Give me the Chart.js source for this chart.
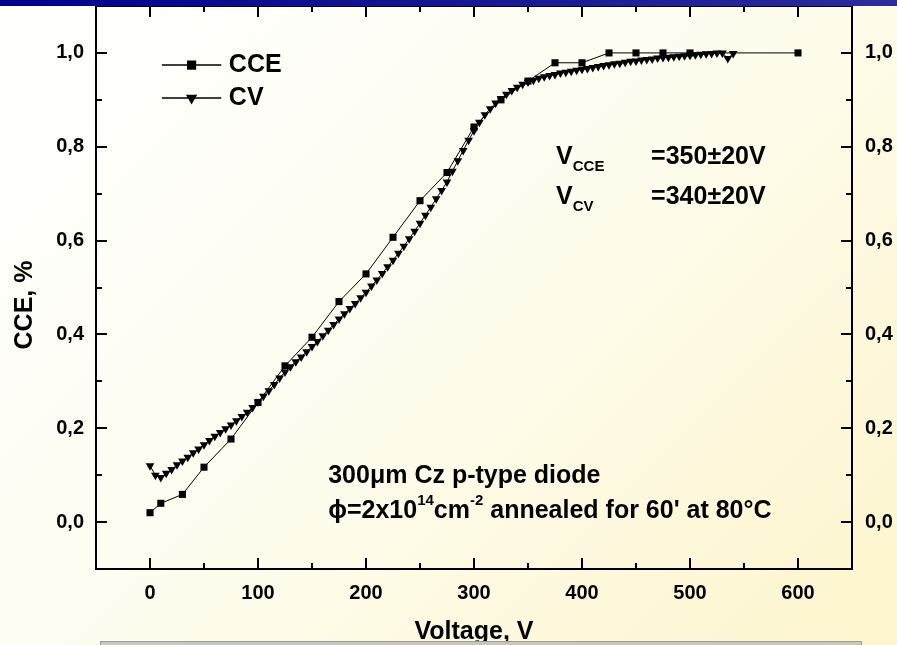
<!DOCTYPE html>
<html>
<head>
<meta charset="utf-8">
<title>CCE vs Voltage</title>
<script src="https://cdn.jsdelivr.net/npm/chart.js@4.4.1/dist/chart.umd.min.js"></script>
<style>
  html, body { margin: 0; padding: 0; }
  body {
    width: 897px; height: 645px; overflow: hidden; position: relative;
    background: linear-gradient(135deg, #ffffff 0%, #fefdf1 45%, #fdf5cc 100%);
  }
  #topbar {
    position: absolute; left: 0; top: 0; width: 897px; height: 6px;
    background: linear-gradient(90deg, #00008c, #2c2c9e);
  }
  #footer {
    position: absolute; left: 100px; top: 641px; width: 760px; height: 10px;
    background: #c6c6c6; border: 1px solid #9c9c9c;
  }
  canvas { position: absolute; left: 0; top: 0; }
</style>
</head>
<body>
<canvas id="cceChart" width="897" height="645"></canvas>
<div id="topbar"></div>
<div id="footer"></div>
<script>
// CCE measurement (squares)
const cceVoltage = [0, 10, 30, 50, 75, 100, 125, 150, 175, 200, 225, 250, 275, 300, 325, 350, 375, 400, 425, 450, 475, 500, 600];
const cceValue = [0.020, 0.040, 0.059, 0.117, 0.177, 0.255, 0.333, 0.394, 0.470, 0.529, 0.607, 0.685, 0.745, 0.842, 0.900, 0.940, 0.979, 0.979, 1.000, 1.000, 1.000, 1.000, 1.000];

// CV measurement (triangles), 5 V steps
const cvVoltage = [
  0, 5, 10, 15, 20, 25, 30, 35, 40, 45, 50, 55, 60, 65, 70, 75, 80, 85, 90, 95,
  100, 105, 110, 115, 120, 125, 130, 135, 140, 145, 150, 155, 160, 165, 170, 175, 180, 185, 190, 195,
  200, 205, 210, 215, 220, 225, 230, 235, 240, 245, 250, 255, 260, 265, 270, 275, 280, 285, 290, 295,
  300, 305, 310, 315, 320, 325, 330, 335, 340, 345, 350, 355, 360, 365, 370, 375, 380, 385, 390, 395,
  400, 405, 410, 415, 420, 425, 430, 435, 440, 445, 450, 455, 460, 465, 470, 475, 480, 485, 490, 495,
  500, 505, 510, 515, 520, 525, 530, 535, 540
];
const cvValue = [
  0.120, 0.100, 0.095, 0.104, 0.112, 0.122, 0.130, 0.138, 0.148, 0.156, 0.165, 0.174, 0.183, 0.191, 0.199, 0.207, 0.216, 0.225, 0.234, 0.244,
  0.256, 0.268, 0.280, 0.293, 0.307, 0.320, 0.331, 0.342, 0.352, 0.363, 0.374, 0.385, 0.397, 0.409, 0.421, 0.433, 0.444, 0.455, 0.466, 0.478,
  0.490, 0.503, 0.516, 0.530, 0.544, 0.558, 0.573, 0.588, 0.604, 0.620, 0.637, 0.654, 0.671, 0.689, 0.707, 0.725, 0.748, 0.770, 0.792, 0.814,
  0.834, 0.852, 0.868, 0.881, 0.893, 0.903, 0.912, 0.920, 0.927, 0.933, 0.938, 0.942, 0.946, 0.949, 0.952, 0.954, 0.957, 0.959, 0.961, 0.963,
  0.965, 0.967, 0.969, 0.971, 0.973, 0.975, 0.977, 0.978, 0.980, 0.982, 0.983, 0.985, 0.986, 0.987, 0.989, 0.990, 0.991, 0.992, 0.993, 0.994,
  0.995, 0.996, 0.997, 0.998, 0.999, 1.000, 1.000, 0.988, 0.999
];

// axis ticks
const xTicks = [0, 100, 200, 300, 400, 500, 600];
const xMinorTicks = [50, 150, 250, 350, 450, 550];
const yTicks = [0, 0.2, 0.4, 0.6, 0.8, 1.0];
const yMinorTicks = [0.1, 0.3, 0.5, 0.7, 0.9];
const yTickLabels = ['0,0', '0,2', '0,4', '0,6', '0,8', '1,0'];

const FONT = "'Liberation Sans', Arial, 'DejaVu Sans', sans-serif";

function toPoints(xs, ys) {
  return xs.map((x, i) => ({ x: x, y: ys[i] }));
}

// draws a row of text pieces; each piece can be shrunk and shifted (sub/superscripts)
function drawRuns(ctx, x, y, runs, size) {
  ctx.textBaseline = 'middle';
  ctx.textAlign = 'left';
  for (const r of runs) {
    const s = Math.round(size * (r.scale || 1));
    ctx.font = 'bold ' + s + 'px ' + FONT;
    ctx.fillText(r.text, x, y + (r.dy || 0));
    x += ctx.measureText(r.text).width;
  }
}

// frame, inward ticks, legend and text labels
const decorations = {
  id: 'decorations',
  afterDatasetsDraw(chart) {
    const { ctx, chartArea: a, scales: { x, y } } = chart;
    ctx.save();
    ctx.strokeStyle = '#000';
    ctx.lineWidth = 2;
    ctx.beginPath();
    const tick = (vals, len, horiz) => {
      vals.forEach(v => {
        if (horiz) {
          const px = Math.round(x.getPixelForValue(v));
          ctx.moveTo(px, a.bottom); ctx.lineTo(px, a.bottom - len);
          ctx.moveTo(px, a.top); ctx.lineTo(px, a.top + len);
        } else {
          const py = Math.round(y.getPixelForValue(v));
          ctx.moveTo(a.left, py); ctx.lineTo(a.left + len, py);
          ctx.moveTo(a.right, py); ctx.lineTo(a.right - len, py);
        }
      });
    };
    tick(xTicks, 11, true);
    tick(xMinorTicks, 6, true);
    tick(yTicks, 11, false);
    tick(yMinorTicks, 6, false);
    ctx.stroke();
    ctx.strokeRect(a.left, a.top, a.right - a.left, a.bottom - a.top);

    // legend
    const ds = chart.data.datasets;
    const legendRows = [
      { d: ds[0], yv: 0.974 },
      { d: ds[1], yv: 0.904 }
    ];
    legendRows.forEach(row => {
      const py = y.getPixelForValue(row.yv);
      const x0 = x.getPixelForValue(11), x1 = x.getPixelForValue(66);
      ctx.lineWidth = 1.5;
      ctx.beginPath(); ctx.moveTo(x0, py); ctx.lineTo(x1, py); ctx.stroke();
      ctx.fillStyle = '#000';
      Chart.helpers.drawPoint(ctx, {
        pointStyle: row.d.pointStyle, rotation: row.d.pointRotation || 0,
        radius: row.d.pointRadius + 1.5, borderWidth: 0
      }, (x0 + x1) / 2, py);
      drawRuns(ctx, x.getPixelForValue(73), py, [{ text: row.d.label }], 25);
    });

    // depletion voltages
    ctx.fillStyle = '#000';
    const vRows = [
      { sub: 'CCE', val: '=350\u00b120V', yv: 0.778 },
      { sub: 'CV', val: '=340\u00b120V', yv: 0.693 }
    ];
    vRows.forEach(r => {
      const py = y.getPixelForValue(r.yv);
      drawRuns(ctx, x.getPixelForValue(376), py, [{ text: 'V' }, { text: r.sub, scale: 0.6, dy: 10 }], 25);
      drawRuns(ctx, x.getPixelForValue(464), py, [{ text: r.val }], 25);
    });

    // sample description
    const lx = x.getPixelForValue(165);
    drawRuns(ctx, lx, y.getPixelForValue(0.099), [{ text: '300\u03bcm Cz p-type diode' }], 25);
    drawRuns(ctx, lx, y.getPixelForValue(0.023), [
      { text: '\u03d5=2x10' },
      { text: '14', scale: 0.6, dy: -10 },
      { text: 'cm' },
      { text: '-2', scale: 0.6, dy: -10 },
      { text: ' annealed for 60\' at 80\u00b0C' }
    ], 25);

    // y axis title
    ctx.translate(25, 305);
    ctx.rotate(-Math.PI / 2);
    ctx.textAlign = 'center';
    ctx.textBaseline = 'middle';
    ctx.font = 'bold 25px ' + FONT;
    ctx.fillText('CCE, %', 0, 0);
    ctx.restore();
  }
};

const tickFont = { family: FONT, size: 20, weight: 'bold' };

// fixed axis sizes so the plot frame lands where it should
function fitVertical(width) {
  return s => { s.width = width; s.paddingTop = 0; s.paddingBottom = 0; };
}

const ctx = document.getElementById('cceChart').getContext('2d');
const cceChart = new Chart(ctx, {
  type: 'scatter',
  data: {
    datasets: [{
      label: 'CCE',
      data: toPoints(cceVoltage, cceValue),
      showLine: true,
      borderColor: '#000',
      borderWidth: 1,
      backgroundColor: '#000',
      pointStyle: 'rect',
      pointRadius: 5,
      pointBorderWidth: 0,
      order: 1
    }, {
      label: 'CV',
      data: toPoints(cvVoltage, cvValue),
      showLine: true,
      borderColor: '#000',
      borderWidth: 1,
      backgroundColor: '#000',
      pointStyle: 'triangle',
      pointRotation: 180,
      pointRadius: 5,
      pointBorderWidth: 0,
      order: 0
    }]
  },
  options: {
    responsive: false,
    animation: false,
    layout: { padding: { top: 6, left: 0, right: 0, bottom: 0 } },
    plugins: { legend: { display: false }, tooltip: { enabled: false } },
    scales: {
      x: {
        type: 'linear', position: 'bottom', min: -50, max: 650,
        grid: { display: false, drawTicks: false },
        border: { display: false },
        afterBuildTicks: s => { s.ticks = xTicks.map(v => ({ value: v })); },
        afterFit: s => { s.height = 76; s.paddingLeft = 0; s.paddingRight = 0; },
        ticks: { font: tickFont, color: '#000', padding: 12, maxRotation: 0 },
        title: {
          display: true, text: 'Voltage, V', color: '#000', padding: 0,
          font: { family: FONT, size: 25, weight: 'bold', lineHeight: 1 }
        }
      },
      y: {
        type: 'linear', position: 'left', min: -0.1, max: 1.1,
        grid: { display: false, drawTicks: false },
        border: { display: false },
        afterBuildTicks: s => { s.ticks = yTicks.map(v => ({ value: v })); },
        afterFit: fitVertical(96),
        ticks: { font: tickFont, color: '#000', padding: 12, callback: (v, i) => yTickLabels[i] }
      },
      y2: {
        type: 'linear', position: 'right', min: -0.1, max: 1.1,
        grid: { display: false, drawTicks: false },
        border: { display: false },
        afterBuildTicks: s => { s.ticks = yTicks.map(v => ({ value: v })); },
        afterFit: fitVertical(45),
        ticks: { font: tickFont, color: '#000', padding: 13, callback: (v, i) => yTickLabels[i] }
      }
    }
  },
  plugins: [decorations]
});
</script>
</body>
</html>
